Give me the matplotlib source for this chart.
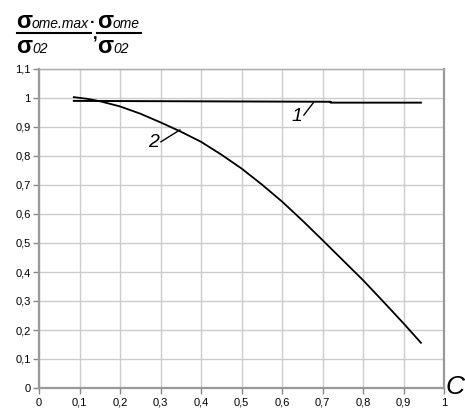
import matplotlib
matplotlib.use("Agg")
import matplotlib.pyplot as plt
from matplotlib.lines import Line2D

W, H = 465, 411

# curve 1: nearly flat line
c1_x = [0.086, 0.72, 0.72, 0.943]
c1_y = [0.990, 0.987, 0.984, 0.984]

# curve 2: falling curve
c2_x = [0.086, 0.12, 0.15, 0.2, 0.25, 0.3, 0.35, 0.4, 0.45, 0.5, 0.55,
        0.6, 0.65, 0.7, 0.75, 0.8, 0.85, 0.9, 0.943]
c2_y = [1.003, 0.997, 0.989, 0.971, 0.946, 0.916, 0.884, 0.849, 0.805,
        0.757, 0.702, 0.643, 0.578, 0.510, 0.441, 0.372, 0.298, 0.223, 0.156]

x_ticks = [0, 0.1, 0.2, 0.3, 0.4, 0.5, 0.6, 0.7, 0.8, 0.9, 1.0]
y_ticks = [0, 0.1, 0.2, 0.3, 0.4, 0.5, 0.6, 0.7, 0.8, 0.9, 1.0, 1.1]
x_labels = ["0", "0,1", "0,2", "0,3", "0,4", "0,5", "0,6", "0,7", "0,8", "0,9", "1"]
y_labels = ["0", "0,1", "0,2", "0,3", "0,4", "0,5", "0,6", "0,7", "0,8", "0,9", "1", "1,1"]

plt.rcParams['font.family'] = ['Liberation Sans', 'DejaVu Sans']


def px(x, y):
    # pixel coords (from top-left) -> figure fraction
    return x / W, 1 - y / H


fig = plt.figure(figsize=(W / 100, H / 100), dpi=100)
ax = fig.add_axes([39 / W, 1 - 388 / H, (444 - 39) / W, (388 - 69) / H])

ax.plot(c1_x, c1_y, color='black', lw=1.4)
ax.plot(c2_x, c2_y, color='black', lw=1.3)

ax.set_xlim(0, 1)
ax.set_ylim(0, 1.1)
ax.set_xticks(x_ticks)
ax.set_xticklabels(x_labels)
ax.set_yticks(y_ticks)
ax.set_yticklabels(y_labels)
ax.tick_params(labelsize=8, length=4, width=1, color='#888888', pad=2)
ax.tick_params(axis='x', pad=3)
ax.grid(True, color='#cccccc', lw=1)
ax.set_axisbelow(True)
for side in ['left', 'bottom', 'right']:
    ax.spines[side].set_color('#999999')
    ax.spines[side].set_linewidth(1.6)
ax.spines['top'].set_color('#aaaaaa')
ax.spines['top'].set_linewidth(1)

# curve labels with leaders
ax.text(0.636, 0.936, "1", fontsize=14, style='italic', ha='center', va='center')
ax.plot([0.654, 0.677], [0.941, 0.983], color='black', lw=1)
ax.text(0.284, 0.845, "2", fontsize=14, style='italic', ha='center', va='center')
ax.plot([0.301, 0.348], [0.849, 0.890], color='black', lw=1)

# axis label C
fig.text(*px(446, 394), "C", fontsize=19, style='italic', ha='left', va='baseline')

# header fraction labels
sig = dict(fontsize=17, weight='bold', va='baseline', ha='left')
sub = dict(fontsize=10, style='italic', va='baseline', ha='left')
fig.text(*px(16, 28), "σ", **sig)
fig.text(*px(32, 28), "ome.max", **sub)
fig.text(*px(16, 53), "σ", **sig)
fig.text(*px(32, 53), "02", **sub)
fig.text(*px(90, 27), "·", fontsize=12, weight='bold', va='baseline', ha='left')
fig.text(*px(93, 40), ",", fontsize=12, weight='bold', va='baseline', ha='left')
fig.text(*px(97, 28), "σ", **sig)
fig.text(*px(113, 28), "ome", **sub)
fig.text(*px(97, 53), "σ", **sig)
fig.text(*px(113, 53), "02", **sub)
fig.add_artist(Line2D([17 / W, 91 / W], [1 - 33 / H, 1 - 33 / H], color='black', lw=1.5))
fig.add_artist(Line2D([97 / W, 141 / W], [1 - 33 / H, 1 - 33 / H], color='black', lw=1.5))

fig.savefig("out.png", dpi=100)
